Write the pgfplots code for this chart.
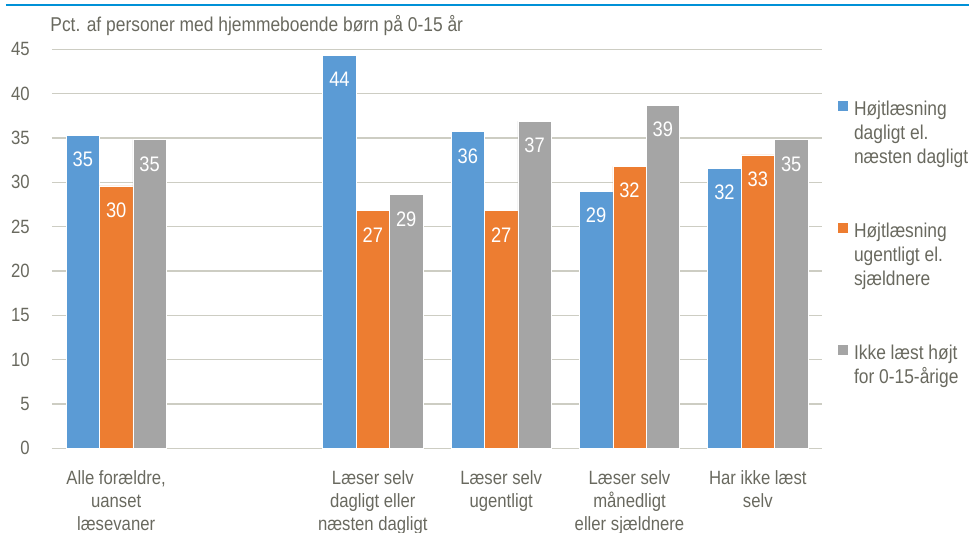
\documentclass[border=0pt]{standalone}
\usepackage{pgfplots}
\pgfplotsset{compat=1.18}
\usepackage{pgfplotstable}
\usepackage{fontspec}
\setmainfont[FakeStretch=0.87]{Liberation Sans}
\definecolor{cblue}{RGB}{91,155,213}
\definecolor{corange}{RGB}{237,125,49}
\definecolor{cgray}{RGB}{165,165,165}
\definecolor{gridc}{RGB}{205,205,195}
\definecolor{txt}{RGB}{105,105,95}
\definecolor{topline}{RGB}{0,145,215}

\pgfplotstableread{
x y lab
0 35.3 35
2 44.3 44
3 35.7 36
4 29.0 29
5 31.6 32
}\tabA
\pgfplotstableread{
x y lab
0 29.6 30
2 26.8 27
3 26.8 27
4 31.8 32
5 33.1 33
}\tabB
\pgfplotstableread{
x y lab
0 34.8 35
2 28.6 29
3 36.9 37
4 38.7 39
5 34.8 35
}\tabC

\begin{document}
\begin{tikzpicture}
\path[use as bounding box] (-26pt,-42.35pt) rectangle (458.5pt,224.15pt);
\begin{axis}[
  scale only axis, width=385pt, height=199.5pt,
  at={(0,0)}, anchor=south west,
  xmin=-0.5, xmax=5.5, ymin=0, ymax=45,
  ybar=0pt, bar width=16.7pt,
  xtick={0,...,5},
  xticklabels={{Alle forældre,\\uanset\\læsevaner},{},{Læser selv\\dagligt eller\\næsten dagligt},{Læser selv\\ugentligt},{Læser selv\\månedligt\\eller sjældnere},{Har ikke læst\\selv}},
  ytick={0,5,...,45},
  ymajorgrids, grid style={gridc, line width=0.75pt},
  axis lines*=left,
  y axis line style={draw=none},
  x axis line style={gridc, line width=0.75pt},
  major tick length=0pt,
  tick label style={font=\fontsize{9.6}{11.5}\selectfont, color=txt},
  /pgf/number format/assume math mode=true,
  yticklabel style={anchor=east, inner sep=0pt, xshift=-11pt},
  xticklabel style={align=center, anchor=north, inner sep=0pt, yshift=-11pt},
  nodes near coords, point meta=explicit symbolic,
  every node near coord/.append style={anchor=north, inner sep=0pt, yshift=-8.3pt, color=white, font=\fontsize{10.5}{12}\selectfont},
  legend cell align=left,
  legend style={at={(1.0195,0.873)}, anchor=north west, draw=none, fill=none,
    font=\fontsize{10}{12}\selectfont, text=txt, row sep=28pt, column sep=2.5pt,
    inner sep=0pt, nodes={align=left, inner sep=0pt}},
]
\addplot[fill=cblue, draw=white, line width=0.3pt,
  legend image code/.code={\path[fill=cblue] (0pt,11pt) rectangle (5.5pt,16.5pt);}]
  table[x=x, y=y, meta=lab] {\tabA};
\addlegendentry{Højtlæsning\\dagligt el.\\næsten dagligt}
\addplot[fill=corange, draw=white, line width=0.3pt,
  legend image code/.code={\path[fill=corange] (0pt,11pt) rectangle (5.5pt,16.5pt);}]
  table[x=x, y=y, meta=lab] {\tabB};
\addlegendentry{Højtlæsning\\ugentligt el.\\sjældnere}
\addplot[fill=cgray, draw=white, line width=0.3pt,
  legend image code/.code={\path[fill=cgray] (0pt,5pt) rectangle (5.5pt,10.5pt);}]
  table[x=x, y=y, meta=lab] {\tabC};
\addlegendentry{Ikke læst højt\\for 0-15-årige}
\end{axis}
\draw[topline, line width=1pt] (-23pt,221.4pt) -- (458.5pt,221.4pt);
\node[anchor=base west, inner sep=0pt, text=txt, font=\fontsize{10}{12}\selectfont] at (-1pt,208.3pt) {Pct. af personer med hjemmeboende børn på 0-15 år};
\end{tikzpicture}
\end{document}
